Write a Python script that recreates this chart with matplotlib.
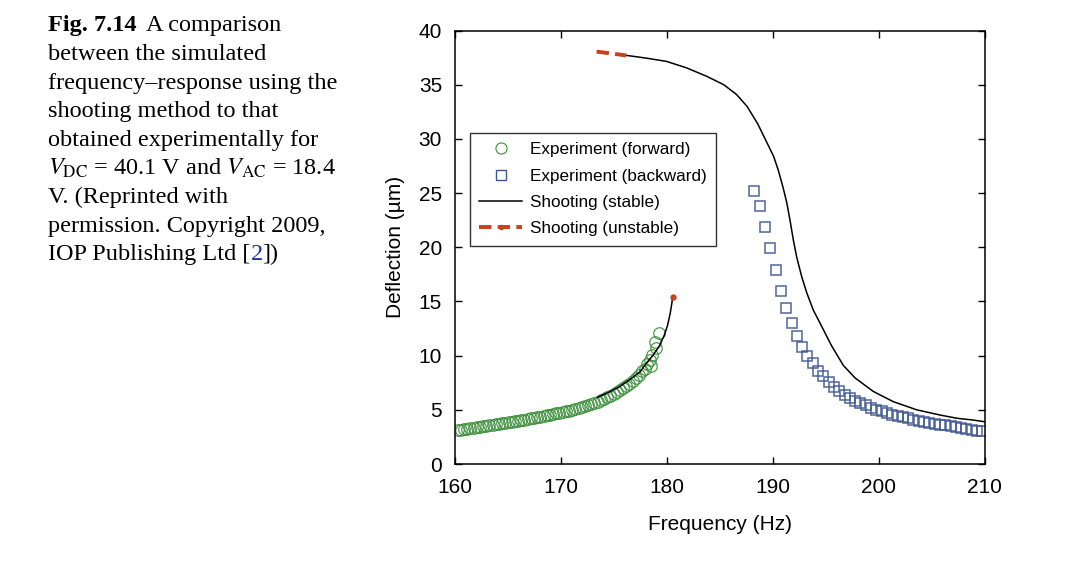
"""
Frequency-response: shooting method vs. experiment (Fig. 7.14 recreation).
"""

import matplotlib
matplotlib.use("Agg")
import matplotlib.pyplot as plt
from matplotlib.lines import Line2D

# --- Data ---

# Experiment, forward sweep (green circles)
fwd_freq = [160.3, 160.6, 160.9, 161.2, 161.5, 161.8, 162.1, 162.4, 162.7, 163.0,
            163.3, 163.6, 163.9, 164.2, 164.5, 164.8, 165.1, 165.4, 165.7, 166.0,
            166.3, 166.6, 166.9, 167.2, 167.5, 167.8, 168.1, 168.4, 168.7, 169.0,
            169.3, 169.6, 169.9, 170.2, 170.5, 170.8, 171.1, 171.4, 171.7, 172.0,
            172.3, 172.6, 172.9, 173.2, 173.5, 173.8, 174.1, 174.4, 174.7, 175.0,
            175.3, 175.6, 175.9, 176.2, 176.5, 176.8, 177.1, 177.4, 177.7, 178.0,
            178.2, 178.5, 178.4, 178.6, 179.0, 178.9, 179.3]
fwd_defl = [3.10, 3.15, 3.20, 3.24, 3.28, 3.32, 3.38, 3.44, 3.48, 3.52,
            3.56, 3.60, 3.65, 3.70, 3.75, 3.80, 3.85, 3.90, 3.95, 4.00,
            4.05, 4.10, 4.15, 4.20, 4.25, 4.30, 4.36, 4.42, 4.48, 4.54,
            4.60, 4.66, 4.72, 4.78, 4.85, 4.92, 5.00, 5.08, 5.16, 5.24,
            5.32, 5.42, 5.52, 5.62, 5.74, 5.86, 6.00, 6.15, 6.30, 6.46,
            6.62, 6.80, 7.00, 7.20, 7.42, 7.66, 7.92, 8.20, 8.60, 8.80,
            9.20, 9.00, 9.60, 10.10, 10.70, 11.30, 12.10]

# Experiment, backward sweep (blue squares)
bwd_freq = [188.3, 188.8, 189.3, 189.8, 190.3, 190.8, 191.3, 191.8, 192.3, 192.8,
            193.3, 193.8, 194.3, 194.8, 195.3, 195.8, 196.3, 196.8, 197.3, 197.8,
            198.3, 198.8, 199.3, 199.8, 200.3, 200.8, 201.3, 201.8, 202.3, 202.8,
            203.3, 203.8, 204.3, 204.8, 205.3, 205.8, 206.3, 206.8, 207.3, 207.8,
            208.3, 208.8, 209.3, 209.8]
bwd_defl = [25.2, 23.8, 21.9, 19.9, 17.9, 16.0, 14.4, 13.0, 11.8, 10.8,
            10.0, 9.3, 8.6, 8.1, 7.6, 7.15, 6.75, 6.4, 6.1, 5.85,
            5.6, 5.4, 5.2, 5.0, 4.85, 4.7, 4.55, 4.42, 4.3, 4.2,
            4.1, 4.0, 3.9, 3.8, 3.72, 3.64, 3.56, 3.48, 3.4, 3.32,
            3.24, 3.16, 3.08, 3.0]

# Shooting, stable lower branch
stab_lo_freq = [173.5, 174.5, 175.5, 176.5, 177.5, 178.1, 178.7, 179.3, 179.8,
                180.1, 180.35, 180.5, 180.58]
stab_lo_defl = [6.16, 6.6, 7.1, 7.76, 8.5, 9.3, 10.0, 10.84, 11.9,
                12.8, 13.9, 14.8, 15.4]

# Shooting, stable upper branch
stab_hi_freq = [176.25, 178.1, 180.0, 181.9, 183.8, 185.4, 186.6, 187.6, 188.6,
                189.45, 190.1, 190.55, 191.0, 191.35, 191.65, 191.96, 192.28,
                192.75, 193.23, 193.85, 194.64, 195.58, 196.68, 197.78, 199.5,
                201.4, 203.6, 205.8, 207.4, 208.9, 210.0]
stab_hi_defl = [37.7, 37.45, 37.15, 36.55, 35.77, 35.0, 34.1, 33.0, 31.4,
                29.7, 28.4, 27.1, 25.5, 24.1, 22.5, 20.7, 19.1,
                17.3, 15.8, 14.2, 12.7, 10.9, 9.1, 7.95, 6.7,
                5.75, 5.0, 4.52, 4.22, 4.06, 3.9]

# Shooting, unstable branch (visible part) and bifurcation point
unst_freq = [173.4, 174.8, 176.2]
unst_defl = [38.05, 37.88, 37.7]
bif_freq = [180.58]
bif_defl = [15.4]

caption_lines = [
    "between the simulated",
    "frequency\u2013response using the",
    "shooting method to that",
    "obtained experimentally for",
]
caption_tail = [
    "V. (Reprinted with",
    "permission. Copyright 2009,",
]

GREEN = "#3b8f3b"
BLUE = "#3d5591"
RED = "#c8401c"

# --------------------------------

plt.rcParams['font.family'] = ['Liberation Sans', 'DejaVu Sans']
plt.rcParams['mathtext.fontset'] = 'stix'

fig = plt.figure(figsize=(10.78, 5.69), dpi=100)
ax = fig.add_axes([454.5 / 1078, 1 - 464 / 569, 530 / 1078, 433.5 / 569])

ax.plot(fwd_freq, fwd_defl, 'o', mfc='none', mec=GREEN, ms=8.3, mew=0.9,
        alpha=0.9, label='Experiment (forward)')
ax.plot(bwd_freq, bwd_defl, 's', mfc='none', mec=BLUE, ms=6.6, mew=1.1,
        alpha=0.9, label='Experiment (backward)')
ax.plot(stab_lo_freq, stab_lo_defl, color='black', lw=1.1, solid_joinstyle='round')
ax.plot(stab_hi_freq, stab_hi_defl, color='black', lw=1.1, solid_joinstyle='round')
ax.plot(unst_freq, unst_defl, color=RED, lw=2.8, ls=(0, (3.2, 1.6)))
ax.plot(bif_freq, bif_defl, 'o', color=RED, ms=3.5)

ax.set_xlim(160, 210)
ax.set_ylim(0, 40)
ax.set_xticks(range(160, 211, 10))
ax.set_yticks(range(0, 41, 5))
ax.tick_params(direction='in', top=True, right=True, length=5, width=1,
               labelsize=15)
ax.tick_params(axis='x', pad=10)
ax.tick_params(axis='y', pad=9)
for sp in ax.spines.values():
    sp.set_linewidth(1.1)

ax.set_xlabel("Frequency (Hz)", fontsize=15, labelpad=13)
ax.set_ylabel("Deflection (\u00b5m)", fontsize=15, labelpad=10)

handles = [
    Line2D([], [], ls='none', marker='o', mfc='none', mec=GREEN, ms=8, mew=0.8),
    Line2D([], [], ls='none', marker='s', mfc='none', mec=BLUE, ms=7, mew=1.0),
    Line2D([], [], color='black', lw=1.1),
    Line2D([], [], color=RED, lw=2.8, ls=(0, (3.2, 1.6)), marker='o', ms=3),
]
labels = ["Experiment (forward)", "Experiment (backward)",
          "Shooting (stable)", "Shooting (unstable)"]
leg = ax.legend(handles, labels, loc='upper left',
                bbox_to_anchor=(15.5 / 530, 1 - 102.5 / 433.5),
                fontsize=12.3, frameon=True, fancybox=False, edgecolor='black',
                handlelength=2.5, handletextpad=0.45, borderpad=0.55,
                labelspacing=0.66, numpoints=1, borderaxespad=0)
leg.get_frame().set_linewidth(1.0)

# --- Caption on the left ---
fig.canvas.draw()
renderer = fig.canvas.get_renderer()
cap_kw = dict(fontsize=17.5, family='Liberation Serif', va='baseline')
x0 = 48
line_h = 28.6
y_first = 31.5


def place(x_px, y_px, s, **kw):
    t = fig.text(x_px / 1078, 1 - y_px / 569, s, **{**cap_kw, **kw})
    return t.get_window_extent(renderer).x1


x1 = place(x0, y_first, "Fig. 7.14", weight='bold')
place(x1 + 9, y_first, "A comparison")
for i, s in enumerate(caption_lines):
    place(x0, y_first + line_h * (i + 1), s)
y = y_first + line_h * 5
place(x0, y, r"$V_{\rm DC}$ = 40.1 V and $V_{\rm AC}$ = 18.4")
for i, s in enumerate(caption_tail):
    place(x0, y + line_h * (i + 1), s)
y = y + line_h * 3
x1 = place(x0, y, "IOP Publishing Ltd [")
x2 = place(x1, y, "2", color='#1f2fa0')
place(x2, y, "])")

fig.savefig("out.png", dpi=100)
